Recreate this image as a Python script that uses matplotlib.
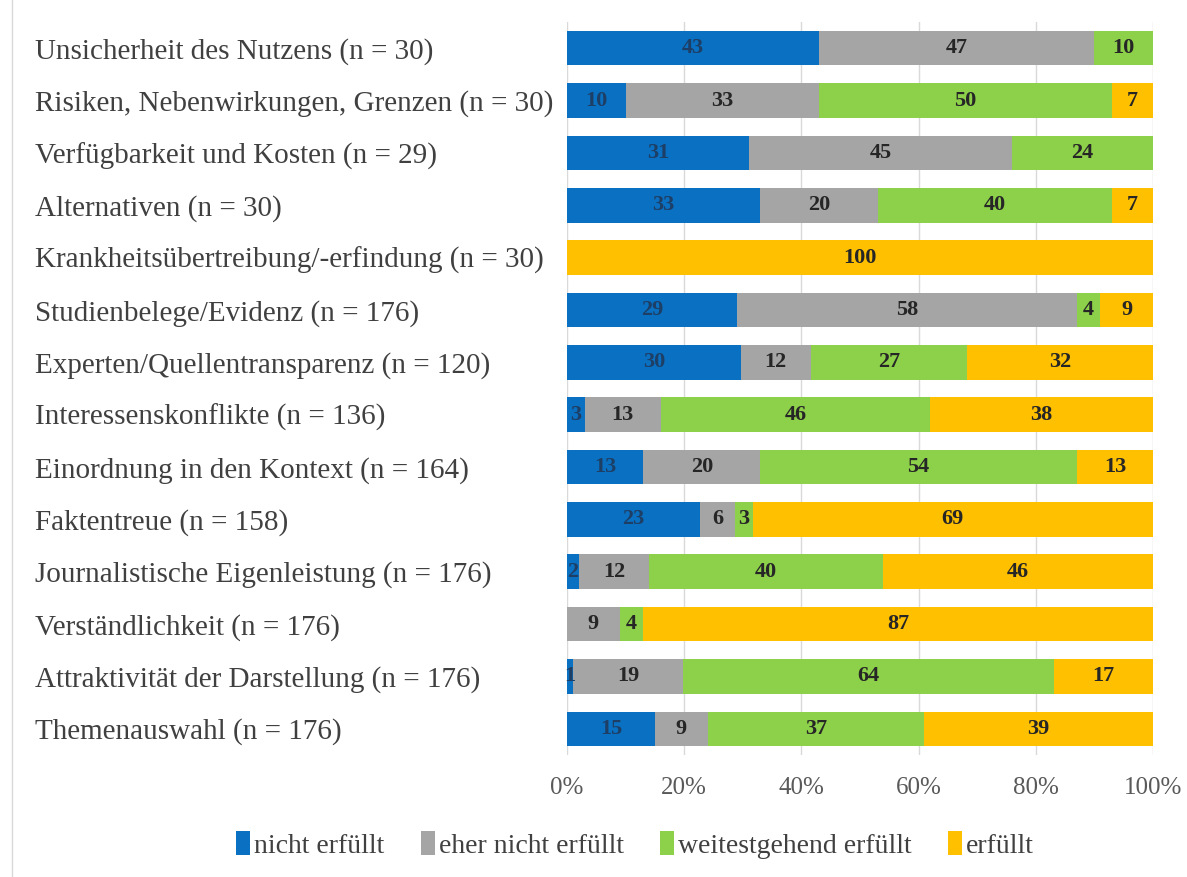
import numpy as np
import matplotlib
matplotlib.use("Agg")
from matplotlib import pyplot as plt
from matplotlib.lines import Line2D
from matplotlib.ticker import PercentFormatter

plt.rcParams['font.family'] = ['Liberation Serif', 'DejaVu Serif']

categories = [
    "Unsicherheit des Nutzens (n = 30)",
    "Risiken, Nebenwirkungen, Grenzen (n = 30)",
    "Verfügbarkeit und Kosten (n = 29)",
    "Alternativen (n = 30)",
    "Krankheitsübertreibung/-erfindung (n = 30)",
    "Studienbelege/Evidenz (n = 176)",
    "Experten/Quellentransparenz (n = 120)",
    "Interessenskonflikte (n = 136)",
    "Einordnung in den Kontext (n = 164)",
    "Faktentreue (n = 158)",
    "Journalistische Eigenleistung (n = 176)",
    "Verständlichkeit (n = 176)",
    "Attraktivität der Darstellung (n = 176)",
    "Themenauswahl (n = 176)",
]
nicht_erfuellt = [43, 10, 31, 33, 0, 29, 30, 3, 13, 23, 2, 0, 1, 15]
eher_nicht = [47, 33, 45, 20, 0, 58, 12, 13, 20, 6, 12, 9, 19, 9]
weitestgehend = [10, 50, 24, 40, 0, 4, 27, 46, 54, 3, 40, 4, 64, 37]
erfuellt = [0, 7, 0, 7, 100, 9, 32, 38, 13, 69, 46, 87, 17, 39]

series = [
    ("nicht erfüllt", nicht_erfuellt, "#0A70C2", "#1d3f66"),
    ("eher nicht erfüllt", eher_nicht, "#A5A5A5", "#262626"),
    ("weitestgehend erfüllt", weitestgehend, "#8DD04A", "#262626"),
    ("erfüllt", erfuellt, "#FFC000", "#262626"),
]

data = np.array([s[1] for s in series], dtype=float)
totals = data.sum(axis=0)
shares = data / totals

fig = plt.figure(figsize=(11.87, 8.77), dpi=100)
ax = fig.add_axes([567 / 1187, 1 - 755 / 877, (1153 - 567) / 1187, (755 - 22) / 877])

y = np.arange(len(categories))
left = np.zeros(len(categories))
for (name, vals, col, tcol), sh in zip(series, shares):
    ax.barh(y, sh, left=left, height=0.66, color=col, label=name, zorder=2)
    for i, v in enumerate(vals):
        if v > 0:
            ax.text(left[i] + sh[i] / 2, y[i], str(v), ha='center', va='center',
                    fontsize=16, fontweight='bold', color=tcol, zorder=3)
    left = left + sh

ax.set_xlim(0, 1)
ax.set_ylim(len(categories) - 0.5, -0.5)
ax.set_yticks(y)
ax.set_yticklabels(categories, fontsize=21, color='#404040', ha='left')
ax.set_xticks(np.arange(0, 1.01, 0.2))
ax.xaxis.set_major_formatter(PercentFormatter(1.0, decimals=0))
ax.tick_params(axis='x', labelsize=18, colors='#595959', length=0, pad=16)
ax.tick_params(axis='y', length=0, pad=(567 - 35) * 0.72)
ax.grid(axis='x', color='#D9D9D9', linewidth=1, zorder=0)
for sp in ax.spines.values():
    sp.set_visible(False)

fig.legend(*ax.get_legend_handles_labels(), loc='center',
           bbox_to_anchor=(635 / 1187, 1 - 845 / 877),
           ncol=4, frameon=False, fontsize=20, handlelength=0.5, handleheight=0.9,
           handletextpad=0.15, columnspacing=1.3, labelcolor='#404040')

fig.add_artist(Line2D([12 / 1187, 12 / 1187], [0, 1], transform=fig.transFigure,
                      color='#D9D9D9', linewidth=1))

fig.savefig("out.png", dpi=100)
